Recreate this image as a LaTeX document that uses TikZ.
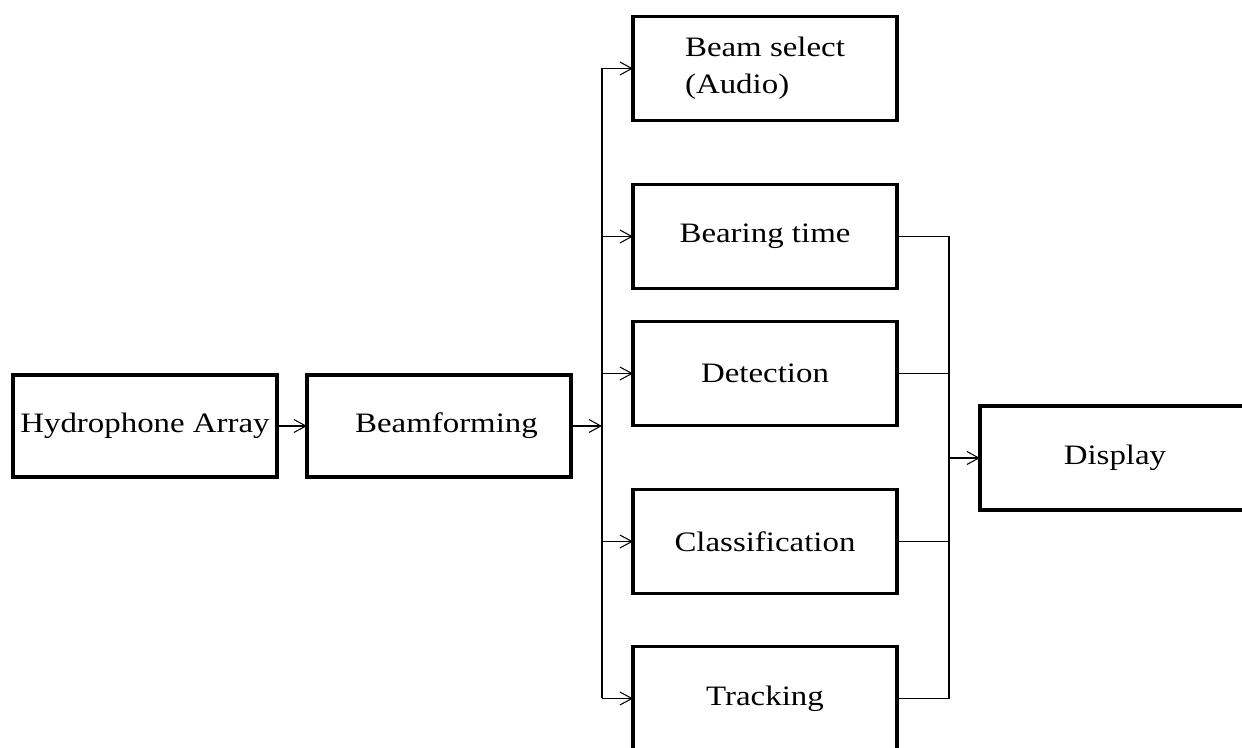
\documentclass[tikz,border=0pt]{standalone}
\usepackage{fontspec}
\setmainfont{Liberation Serif}[FakeStretch=1.17]
\usepackage{tikz}
\usetikzlibrary{positioning, arrows.meta}

\begin{document}
\begin{tikzpicture}[>={Straight Barb[length=2.4mm,width=2.6mm]}]
	\tikzstyle{block} = [rectangle, draw, line width=2pt, minimum width=5.28cm, minimum height=2.08cm, inner sep=0pt, outer sep=0pt, align=left, font=\fontsize{16}{21}\selectfont]
	\tikzstyle{wire} = [line width=0.6pt]
	\useasboundingbox (0,0) rectangle (24.84,-14.96);

	\node [block, minimum height=2.04cm] (hydro) at (2.90,-8.52) {Hydrophone Array};
	\node [block, minimum height=2.04cm, right=0.6cm of hydro] (beamform) {\hspace*{0.3cm}Beamforming};

	\node [block] (beamsel) at (15.30,-1.37) {Beam select\\(Audio)};
	\node [block, below=1.28cm of beamsel] (bearing) {Bearing time};
	\node [block, below=0.66cm of bearing] (detection) {Detection};
	\node [block, below=1.28cm of detection] (classif) {Classification};
	\node [block, below=1.06cm of classif] (tracking) {Tracking};

	\node [block, minimum width=5.4cm] (display) at (22.30,-9.16) {Display};

	\coordinate [right=0.62cm of beamform] (lbus);
	\coordinate [right=1.04cm of bearing] (rbus);

	\draw [wire, ->] (hydro) -- (beamform);
	\draw [wire, ->] (beamform) -- (lbus);
	\draw [wire] (lbus |- beamsel.west) -- (lbus |- tracking.west);
	\foreach \n in {beamsel, bearing, detection, classif, tracking}
		\draw [wire, ->] (lbus |- \n.west) -- (\n.west);

	\draw [wire] (bearing.east) -- (rbus) -- (rbus |- tracking.east) -- (tracking.east);
	\foreach \n in {detection, classif}
		\draw [wire] (\n.east) -- (rbus |- \n.east);
	\draw [wire, ->] (rbus |- display.west) -- (display.west);
\end{tikzpicture}
\end{document}
